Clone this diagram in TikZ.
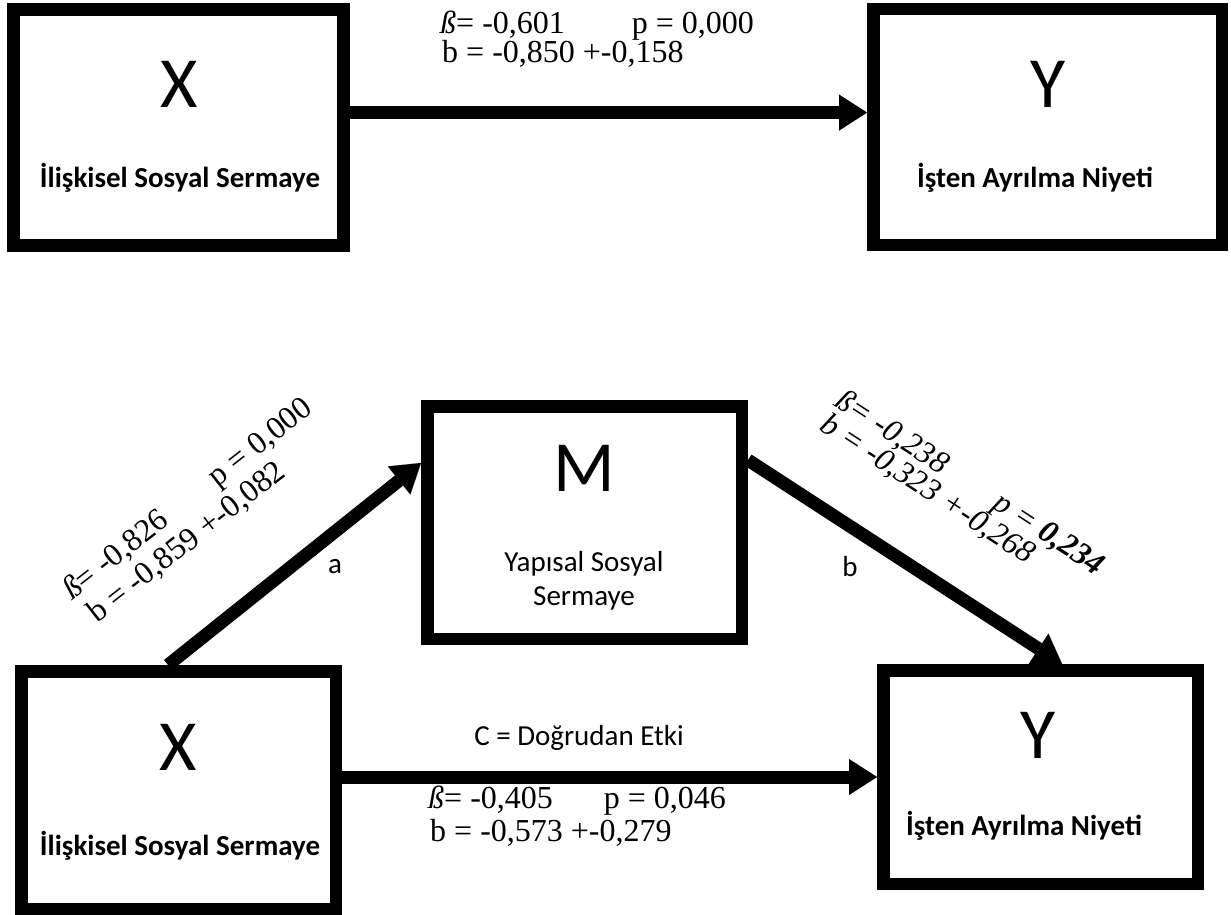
\documentclass[tikz,border=0pt]{standalone}
\usepackage{fontspec}
\setmainfont{Liberation Serif}
\newfontfamily\calfont{Carlito}
\usetikzlibrary{arrows.meta,calc}
\begin{document}
\begin{tikzpicture}[x=1pt,y=-1pt,
  box/.style={draw,line width=12.5pt,inner sep=0pt},
  conn/.style={line width=13pt,-{Triangle[length=28pt,width=36pt,line width=0.01pt]}},
  big/.style={font=\calfont\fontsize{72}{72}\selectfont,anchor=base,inner sep=0pt},
  sub/.style={font=\calfont\bfseries\fontsize{29}{34}\selectfont,anchor=base,inner sep=0pt},
  lab/.style={font=\calfont\fontsize{29}{34}\selectfont,anchor=base,inner sep=0pt},
  stat/.style={font=\fontsize{32}{32}\selectfont,anchor=base west,inner sep=0pt},
]
\useasboundingbox (0,0) rectangle (1231,915);
% boxes
\node[box,minimum width=330pt,minimum height=236pt] (xt) at (178.5,127.5) {};
\node[box,minimum width=348.5pt,minimum height=235.5pt] (yt) at (1047.5,127) {};
\node[box,minimum width=314.5pt,minimum height=232.5pt] (mb) at (584.5,522.5) {};
\node[box,minimum width=314.5pt,minimum height=237.5pt] (xb) at (178.5,790) {};
\node[box,minimum width=314.5pt,minimum height=213.5pt] (yb) at (1040.5,777) {};
% box texts
\node[big] (xtl) at (179,108) {X};
\node[sub] (xts) at (180,187) {İlişkisel Sosyal Sermaye};
\node[big] (ytl) at (1048,108) {Y};
\node[sub] (yts) at (1035,187) {İşten Ayrılma Niyeti};
\node[big] (mbl) at (584,491) {M};
\node[lab] (mbs1) at (584,571) {Yapısal Sosyal};
\node[lab] (mbs2) at (584,605) {Sermaye};
\node[big] (xbl) at (178,770) {X};
\node[sub] (xbs) at (180,855) {İlişkisel Sosyal Sermaye};
\node[big] (ybl) at (1038,758) {Y};
\node[sub] (ybs) at (1024,835) {İşten Ayrılma Niyeti};
% connectors
\coordinate (tA) at ($(xt.north east)!0.44!(xt.south east)$);
\draw[conn] (tA) -- (tA -| yt.west);
\draw[conn] (yb.west -| xb.east) -- (yb.west);
\draw[conn] ($(xb.north west)!0.468!(xb.north east)$) -- ($(mb.north west)!0.257!(mb.south west)$);
\draw[conn] ($(mb.north east)!0.245!(mb.south east)$) -- ($(yb.north west)!0.566!(yb.north east)$);
% labels
\node[lab] (cl) at (579,745) {C = Doğrudan Etki};
\node[lab] (al) at (335,573) {a};
\node[lab] (bl) at (850,576) {b};
\node[stat] (t1) at (440,34) {\textit{ß}= -0,601\hspace{67pt}p = 0,000};
\node[stat] (t2) at (442,63) {b = -0,850 +-0,158};
\node[stat] (c1) at (428,808) {\textit{ß}= -0,405\hspace{51pt}p = 0,046};
\node[stat] (c2) at (430,841) {b = -0,573 +-0,279};
\node[stat,rotate=38] (a1) at (72,601) {\textit{ß}= -0,826\hspace{60pt}p = 0,000};
\node[stat,rotate=38] (a2) at (97,624) {b = -0,859 +-0,082};
\node[stat,rotate=-33] (b1) at (833,405) {\textit{ß= -0,238\hspace{60pt}p = \textbf{0,234}}};
\node[stat,rotate=-33] (b2) at (818,429) {\textit{b = -0,323 +-0,268}};
\end{tikzpicture}
\end{document}
